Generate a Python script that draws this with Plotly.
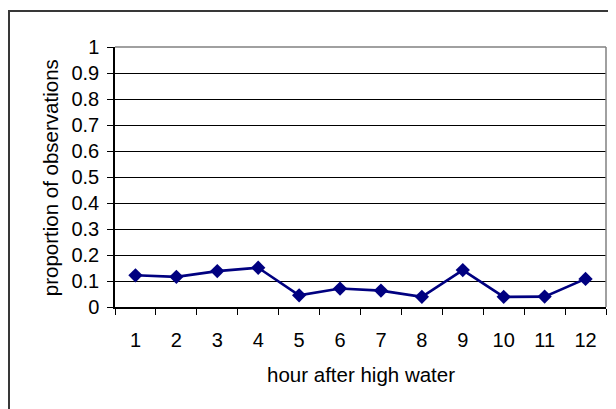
import plotly.graph_objects as go

hours = ["1", "2", "3", "4", "5", "6", "7", "8", "9", "10", "11", "12"]
proportion = [0.122, 0.116, 0.138, 0.151, 0.045, 0.071, 0.063, 0.039, 0.142, 0.039, 0.040, 0.108]
y_ticks = [0, 0.1, 0.2, 0.3, 0.4, 0.5, 0.6, 0.7, 0.8, 0.9, 1]
y_tick_labels = ["0", "0.1", "0.2", "0.3", "0.4", "0.5", "0.6", "0.7", "0.8", "0.9", "1"]

FONT = "Liberation Sans, Arial, sans-serif"
NAVY = "#000080"

fig = go.Figure()
fig.add_trace(go.Scatter(
    x=hours, y=proportion, mode="lines+markers",
    line=dict(color=NAVY, width=2.6),
    marker=dict(symbol="diamond", size=11, color=NAVY),
    showlegend=False,
))

# page body has an 8px margin, so the figure is placed at (8, 8)
W, H = 608, 401
L, T = 107, 39
R = W - 598
B = H - 299.5
pw = W - L - R
ph = H - T - B

fig.update_layout(
    width=W, height=H,
    margin=dict(l=L, r=R, t=T, b=B, autoexpand=False),
    paper_bgcolor="white", plot_bgcolor="white",
    font=dict(family=FONT, size=20, color="black"),
    xaxis=dict(
        type="category", range=[-0.5, 11.5], tickson="boundaries",
        ticks="outside", ticklen=6, tickcolor="black", tickwidth=1,
        showline=True, linecolor="black", linewidth=1.5,
        showgrid=False, zeroline=False, ticklabelstandoff=14,
        tickfont=dict(size=20), automargin=False,
    ),
    yaxis=dict(
        range=[0, 1], tickvals=y_ticks, ticktext=y_tick_labels,
        ticks="outside", ticklen=6, tickcolor="black", tickwidth=1,
        showline=True, linecolor="black", linewidth=1.5,
        showgrid=True, gridcolor="black", gridwidth=1, zeroline=False,
        ticklabelstandoff=4, tickfont=dict(size=20), automargin=False,
    ),
)

# plot area gray border (top and right)
fig.add_shape(type="line", xref="paper", yref="paper", x0=0, x1=1, y0=1, y1=1,
              line=dict(color="#808080", width=1.5), layer="above")
fig.add_shape(type="line", xref="paper", yref="paper", x0=1, x1=1, y0=0, y1=1,
              line=dict(color="#808080", width=1.5), layer="above")

# outer chart border (extends past right/bottom edges)
fig.add_shape(type="rect", xref="paper", yref="paper",
              x0=(1 - L) / pw, x1=(W + 10 - L) / pw,
              y0=(T + ph - (H + 10)) / ph, y1=(T + ph - 3) / ph,
              line=dict(color="#383838", width=2), layer="below")

# axis titles
fig.add_annotation(text="hour after high water", xref="paper", yref="paper",
                   x=0.5, y=(T + ph - 367) / ph, xanchor="center", yanchor="middle",
                   showarrow=False, font=dict(size=20.5))
fig.add_annotation(text="proportion of observations", xref="paper", yref="paper",
                   x=(42 - L) / pw, y=(T + ph - 170.5) / ph, xanchor="center", yanchor="middle",
                   textangle=-90, showarrow=False, font=dict(size=20.5))

fig.write_html("out.html")
